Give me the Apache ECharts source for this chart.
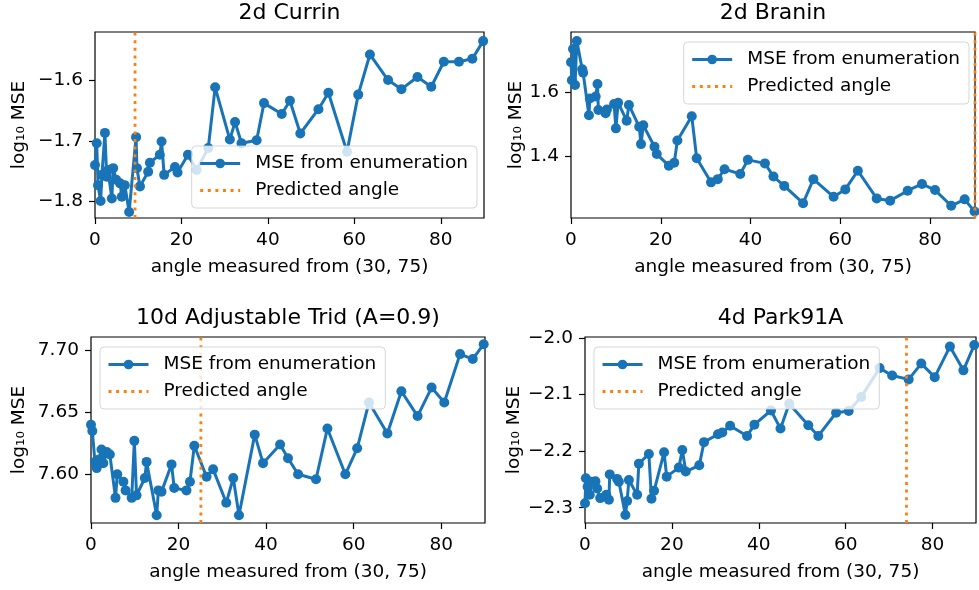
<!DOCTYPE html>
<html>
<head>
<meta charset="utf-8">
<script src="https://cdn.jsdelivr.net/npm/echarts@6/dist/echarts.min.js"></script>
<style>
  html, body { margin: 0; padding: 0; background: #fff; }
  #main { width: 979px; height: 590px; }
</style>
</head>
<body>
<div id="main"></div>
<script>
// values
var currinAngle = [0, 0.4, 0.7, 1.3, 1.6, 2.3, 2.7, 3.0, 3.9, 4.2, 4.9, 5.8, 6.2, 6.9, 7.9, 9.5, 9.7, 10.4, 12.3, 12.7,
  15.0, 15.4, 16.0, 18.5, 19.1, 21.5, 23.5, 26.2, 27.8, 31.2, 32.4, 33.9, 37.4, 39.1, 43.2, 45.1, 47.5, 51.7, 54.0, 58.3,
  60.9, 63.6, 67.8, 70.9, 74.6, 77.8, 80.7, 84.2, 87.3, 89.8];
var currinMse = [-1.740, -1.704, -1.773, -1.799, -1.756, -1.687, -1.759, -1.748, -1.795, -1.745, -1.764, -1.770, -1.792,
  -1.773, -1.817, -1.694, -1.745, -1.775, -1.751, -1.736, -1.723, -1.701, -1.756, -1.743, -1.752, -1.723, -1.748, -1.712,
  -1.612, -1.698, -1.669, -1.704, -1.699, -1.638, -1.656, -1.634, -1.688, -1.648, -1.621, -1.718, -1.624, -1.558, -1.600,
  -1.615, -1.595, -1.611, -1.570, -1.570, -1.565, -1.536];

var braninAngle = [0, 0.2, 0.45, 0.9, 1.3, 2.5, 2.7, 4.0, 4.2, 5.5, 5.9, 6.1, 7.7, 8.0, 9.6, 10.0, 10.5, 12.4, 12.9, 15.2,
  15.6, 16.1, 18.6, 19.1, 21.8, 23.0, 23.7, 26.9, 28.0, 31.2, 32.7, 34.2, 37.7, 39.4, 43.2, 45.1, 47.5, 51.7, 54.0, 58.5,
  61.1, 63.9, 68.1, 71.1, 75.0, 78.2, 81.1, 84.7, 87.7, 89.9];
var braninMse = [1.692, 1.636, 1.733, 1.621, 1.758, 1.670, 1.659, 1.527, 1.579, 1.585, 1.624, 1.543, 1.533, 1.545, 1.562,
  1.486, 1.566, 1.510, 1.559, 1.491, 1.437, 1.496, 1.429, 1.406, 1.370, 1.379, 1.448, 1.524, 1.393, 1.318, 1.328, 1.359,
  1.344, 1.388, 1.377, 1.336, 1.307, 1.253, 1.328, 1.273, 1.296, 1.354, 1.268, 1.261, 1.292, 1.313, 1.294, 1.245, 1.265,
  1.227];

var tridAngle = [0, 0.3, 0.9, 1.3, 1.8, 2.4, 2.8, 3.6, 4.3, 5.6, 6.0, 7.4, 7.9, 9.3, 9.9, 10.4, 12.3, 12.7, 15.0, 15.4,
  16.1, 18.4, 19.0, 21.8, 22.6, 23.6, 26.4, 27.9, 30.9, 32.5, 33.8, 37.4, 39.3, 43.2, 45.0, 47.3, 51.4, 54.0, 58.1, 60.8,
  63.5, 67.7, 70.9, 74.6, 77.8, 80.7, 84.3, 87.2, 89.7];
var tridMse = [7.640, 7.635, 7.610, 7.605, 7.612, 7.620, 7.609, 7.618, 7.616, 7.581, 7.600, 7.594, 7.587, 7.581, 7.627,
  7.583, 7.597, 7.610, 7.567, 7.587, 7.586, 7.608, 7.589, 7.587, 7.594, 7.623, 7.598, 7.604, 7.577, 7.597, 7.567, 7.632,
  7.609, 7.624, 7.613, 7.600, 7.596, 7.637, 7.600, 7.621, 7.658, 7.633, 7.667, 7.647, 7.670, 7.658, 7.697, 7.693, 7.705];

var parkAngle = [0, 0.2, 0.6, 1.1, 1.6, 2.4, 2.8, 3.5, 4.9, 5.5, 5.7, 7.4, 7.8, 9.3, 9.7, 10.1, 12.0, 12.4, 14.7, 15.3,
  15.9, 18.2, 18.8, 21.6, 22.4, 23.2, 26.3, 27.4, 30.6, 31.6, 33.4, 37.3, 39.0, 42.8, 45.0, 47.0, 51.4, 53.7, 57.8, 60.7,
  63.6, 67.8, 70.7, 74.5, 77.4, 80.5, 84.0, 87.1, 89.6];
var parkMse = [-2.292, -2.248, -2.263, -2.277, -2.254, -2.253, -2.266, -2.283, -2.277, -2.286, -2.241, -2.249, -2.254,
  -2.313, -2.288, -2.251, -2.277, -2.222, -2.205, -2.284, -2.270, -2.202, -2.245, -2.229, -2.198, -2.236, -2.225, -2.184,
  -2.170, -2.167, -2.155, -2.173, -2.153, -2.128, -2.160, -2.116, -2.154, -2.173, -2.132, -2.129, -2.104, -2.053, -2.066,
  -2.073, -2.045, -2.069, -2.015, -2.057, -2.012];

var predictedAngle = [9.26, 90, 25.1, 74.0];
var titles = ['2d Currin', '2d Branin', '10d Adjustable Trid (A=0.9)', '4d Park91A'];
var xTicks = [0, 20, 40, 60, 80];
var yTicks = [[-1.8, -1.7, -1.6], [1.4, 1.6], [7.60, 7.65, 7.70], [-2.3, -2.2, -2.1, -2.0]];
var yDigits = [1, 1, 2, 1];
var yLimits = [[-1.827, -1.521], [1.207, 1.786], [7.5607, 7.7108], [-2.327, -1.998]];

var angles = [currinAngle, braninAngle, tridAngle, parkAngle];
var mses = [currinMse, braninMse, tridMse, parkMse];

// layout of the four panels (pixels)
var boxes = [
  { left: 95, top: 32, width: 389, yGap: 66, legend: { right: 502, top: 146 } },
  { left: 571, top: 32, width: 404, yGap: 45, legend: { right: 10, top: 42 } },
  { left: 91, top: 337, width: 394, yGap: 62, legend: { left: 100, top: 347 } },
  { left: 585, top: 337, width: 391, yGap: 61, legend: { left: 594, top: 347 } }
];
var plotH = 186;
var blue = '#1874b6';
var orange = '#ff7f0e';
var fs = 18.5;

function minus(s) { return s.replace('-', '\u2212'); }

var myChart = echarts.init(document.getElementById('main'));
var option = {
  animation: false,
  textStyle: { fontFamily: 'DejaVu Sans' },
  title: [], grid: [], xAxis: [], yAxis: [], legend: [], series: []
};

boxes.forEach(function (b, i) {
  option.title.push({
    text: titles[i],
    left: b.left + b.width / 2, top: b.top - 30,
    textAlign: 'center', padding: 0,
    textStyle: { fontSize: 22, fontWeight: 'normal', color: '#000', fontFamily: 'DejaVu Sans' }
  });
  option.grid.push({
    left: b.left, top: b.top, width: b.width, height: plotH,
    show: true, borderColor: '#000', borderWidth: 1.2, containLabel: false
  });
  option.xAxis.push({
    type: 'value', gridIndex: i, min: 0, max: 90,
    name: 'angle measured from (30, 75)', nameLocation: 'middle', nameGap: 40,
    nameTextStyle: { fontSize: fs, color: '#000' },
    axisLine: { show: false },
    axisTick: { show: true, length: 6, customValues: xTicks, lineStyle: { color: '#000', width: 1.2 } },
    axisLabel: { customValues: xTicks, margin: 13, fontSize: fs, color: '#000' },
    splitLine: { show: false }
  });
  option.yAxis.push({
    type: 'value', gridIndex: i, min: yLimits[i][0], max: yLimits[i][1],
    name: 'log\u2081\u2080 MSE', nameLocation: 'middle', nameGap: b.yGap,
    nameTextStyle: { fontSize: fs, color: '#000' },
    axisLine: { show: false },
    axisTick: { show: true, length: 6, customValues: yTicks[i], lineStyle: { color: '#000', width: 1.2 } },
    axisLabel: {
      customValues: yTicks[i], margin: 12, fontSize: fs, color: '#000',
      formatter: (function (d) { return function (v) { return minus(v.toFixed(d)); }; })(yDigits[i])
    },
    splitLine: { show: false }
  });
  option.legend.push(Object.assign({
    orient: 'vertical',
    data: [
      'MSE from enumeration',
      { name: 'Predicted angle', itemStyle: { color: 'rgba(0,0,0,0)', borderWidth: 0, opacity: 0 } }
    ],
    selectedMode: false,
    itemWidth: 40, itemHeight: 12, itemGap: 6,
    padding: [7, 9, 7, 7],
    backgroundColor: 'rgba(255,255,255,0.8)',
    borderColor: 'rgba(204,204,204,0.8)', borderWidth: 1, borderRadius: 4,
    lineStyle: { width: 3 },
    textStyle: { fontSize: fs, color: '#000', lineHeight: 21, padding: [0, 0, 0, 10] },
    z: 10
  }, b.legend));

  var pts = angles[i].map(function (a, k) { return [a, mses[i][k]]; });
  option.series.push({
    type: 'line', name: 'MSE from enumeration',
    xAxisIndex: i, yAxisIndex: i,
    data: pts,
    symbol: 'circle', symbolSize: 10, showSymbol: true,
    lineStyle: { color: blue, width: 3 },
    itemStyle: { color: blue },
    emphasis: { disabled: true },
    z: 2
  });
  option.series.push({
    type: 'line', name: 'Predicted angle',
    xAxisIndex: i, yAxisIndex: i,
    data: [[predictedAngle[i], yLimits[i][0]], [predictedAngle[i], yLimits[i][1]]],
    symbol: 'none',
    lineStyle: { color: orange, width: 2.8, type: [3, 4.6] },
    itemStyle: { color: orange },
    emphasis: { disabled: true },
    z: 3
  });
});

myChart.setOption(option);
</script>
</body>
</html>
